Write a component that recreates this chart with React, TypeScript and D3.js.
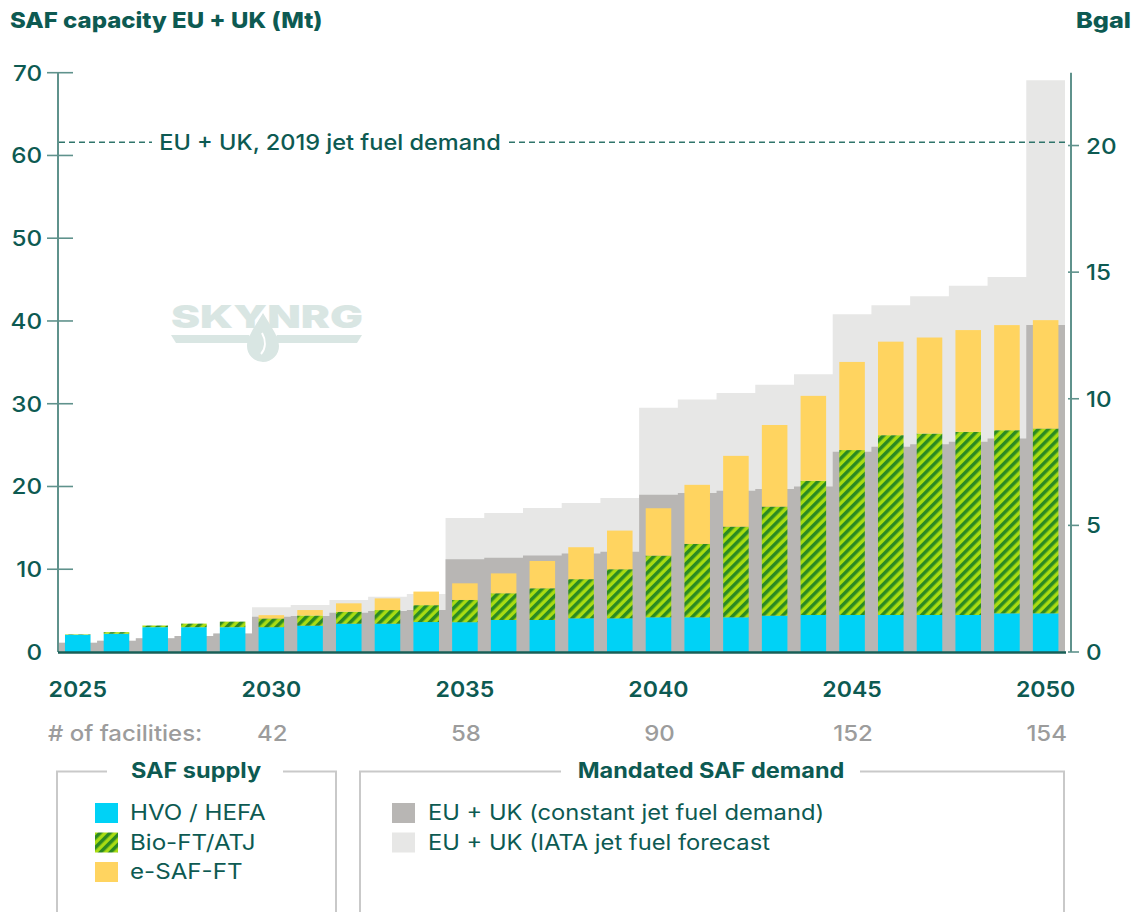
import React from "react";
import * as d3 from "d3";

// ---------- data ----------
const years = [
  "2025", "2026", "2027", "2028", "2029",
  "2030", "2031", "2032", "2033", "2034",
  "2035", "2036", "2037", "2038", "2039",
  "2040", "2041", "2042", "2043", "2044",
  "2045", "2046", "2047", "2048", "2049", "2050",
];

// SAF supply (Mt), stacked segments
const hvoHefa = [
  2.07, 2.2, 3.0, 3.0, 3.0,
  3.0, 3.18, 3.42, 3.42, 3.62,
  3.6, 3.87, 3.87, 4.07, 4.07,
  4.19, 4.19, 4.19, 4.39, 4.47,
  4.47, 4.47, 4.47, 4.47, 4.67, 4.67,
];
const bioFtAtj = [
  0.06, 0.2, 0.2, 0.43, 0.67,
  1.05, 1.23, 1.45, 1.65, 2.04,
  2.69, 3.23, 3.83, 4.73, 5.93,
  7.46, 8.87, 10.96, 13.18, 16.21,
  19.93, 21.73, 21.93, 22.13, 22.13, 22.33,
];
const eSafFt = [
  0, 0, 0, 0, 0,
  0.4, 0.66, 1.01, 1.41, 1.64,
  2.01, 2.4, 3.3, 3.86, 4.67,
  5.72, 7.14, 8.55, 9.86, 10.27,
  10.65, 11.3, 11.6, 12.3, 12.7, 13.1,
];

// Mandated SAF demand (Mt)
const demandConstant = [
  1.12, 1.37, 1.65, 1.93, 2.25,
  4.27, 4.35, 4.75, 4.95, 5.07,
  11.2, 11.4, 11.65, 11.9, 12.1,
  19.0, 19.2, 19.47, 19.7, 20.0,
  24.2, 24.8, 25.1, 25.4, 25.8, 39.5,
];
const demandIata = [
  1.12, 1.37, 1.65, 1.93, 2.25,
  5.4, 5.68, 6.28, 6.69, 7.0,
  16.2, 16.8, 17.4, 18.0, 18.6,
  29.5, 30.5, 31.3, 32.3, 33.55,
  40.8, 41.9, 43.0, 44.25, 45.3, 69.1,
];

const leftTicks = [0, 10, 20, 30, 40, 50, 60, 70];
const rightTicks = [0, 5, 10, 15, 20];
const yearLabels = ["2025", "2030", "2035", "2040", "2045", "2050"];
const facilityYears = ["2030", "2035", "2040", "2045", "2050"];
const facilityCounts = ["42", "58", "90", "152", "154"];
const jetFuel2019 = 61.6; // Mt
const mtPerBgal = 3.06;

const supplyKeys = ["hvo", "bio", "esaf"];
const supplyLabels = ["HVO / HEFA", "Bio-FT/ATJ", "e-SAF-FT"];
const demandLabels = ["EU + UK (constant jet fuel demand)", "EU + UK (IATA jet fuel forecast"];

// ---------- style ----------
const TEAL = "#0d5a52";
const AXIS = "#5f928c";
const CYAN = "#00d2f6";
const YELLOW = "#ffd460";
const GREEN_L = "#a9dc12";
const GREEN_D = "#2b8a22";
const GRAY_D = "#b8b6b4";
const GRAY_L = "#e7e7e6";
const FONT = "Inter, 'Noto Sans', sans-serif";

function T(props: {
  x: number;
  y: number;
  sx?: number;
  anchor?: "start" | "middle" | "end";
  size: number;
  weight?: number;
  fill?: string;
  children: React.ReactNode;
}) {
  const { x, y, sx = 1, anchor = "start", size, weight = 400, fill = TEAL, children } = props;
  return (
    <text
      transform={`translate(${x},${y}) scale(${sx},1)`}
      textAnchor={anchor}
      fontSize={size}
      fontWeight={weight}
      fill={fill}
    >
      {children}
    </text>
  );
}

export default function App() {
  const W = 1139;
  const H = 912;
  const x = d3.scaleBand<string>().domain(years).range([58.4, 1065]).padding(0);
  const y = d3.scaleLinear().domain([0, 70]).range([652, 72.7]);
  const yR = d3.scaleLinear().domain([0, 70 / mtPerBgal]).range([652, 72.7]);
  const bw = x.bandwidth();
  const barW = bw * 0.66;

  const rows = years.map((yr, i) => ({ year: yr, hvo: hvoHefa[i], bio: bioFtAtj[i], esaf: eSafFt[i] }));
  const stacked = d3.stack<any>().keys(supplyKeys)(rows);
  const fills = [CYAN, "url(#hatch)", YELLOW];

  const stepPts = (vals: number[]) =>
    years.flatMap((yr, i) => [
      { x: x(yr)!, v: vals[i] },
      { x: x(yr)! + bw, v: vals[i] },
    ]);
  const area = d3
    .area<{ x: number; v: number }>()
    .x((d) => d.x)
    .y0(y(0))
    .y1((d) => y(d.v));

  const yDash = y(jetFuel2019);

  return (
    <svg
      width={W}
      height={H}
      style={{ position: "absolute", left: 0, top: 0, background: "#fff" }}
      fontFamily={FONT}
    >
      <defs>
        <pattern id="hatch" width="7" height="7" patternUnits="userSpaceOnUse" patternTransform="rotate(45)">
          <rect width="7" height="7" fill={GREEN_L} />
          <rect width="3.5" height="7" fill={GREEN_D} />
        </pattern>
      </defs>
      <rect width={W} height={H} fill="#fff" />

      {/* watermark */}
      <g fill="#d9e6e3">
        <text x={171} y={328} fontSize={31} fontWeight={900} textLength={192} lengthAdjust="spacingAndGlyphs">
          SKYNRG
        </text>
        <polygon points="171,335 249,335 254,343 176,343" />
        <polygon points="277,335 362,335 357,343 272,343" />
        <path d="M263,313 C258,322 247,336 247,346 A16,16 0 0 0 279,346 C279,336 268,322 263,313 Z" />
        <path d="M262,333 C266,340 266,348 261,354" fill="none" stroke="#fff" strokeWidth={2} />
      </g>

      {/* demand areas */}
      <path d={area(stepPts(demandIata))!} fill={GRAY_L} />
      <path d={area(stepPts(demandConstant))!} fill={GRAY_D} />

      {/* supply bars */}
      {stacked.map((s, si) => (
        <g key={s.key} fill={fills[si]}>
          {s.map((d, i) =>
            d[1] - d[0] > 0 ? (
              <rect
                key={years[i]}
                x={x(years[i])! + (bw - barW) / 2}
                y={y(d[1])}
                width={barW}
                height={y(d[0]) - y(d[1])}
              />
            ) : null
          )}
        </g>
      ))}

      {/* dashed 2019 demand line */}
      <line x1={59} x2={1069} y1={yDash} y2={yDash} stroke="#2f746b" strokeWidth={1.4} strokeDasharray="6 4" />
      <rect x={152} y={yDash - 13} width={356} height={26} fill="#fff" />
      <T x={330} y={yDash + 7.5} anchor="middle" size={22} weight={500} sx={1.07}>
        EU + UK, 2019 jet fuel demand
      </T>

      {/* left axis */}
      <line x1={58} x2={58} y1={y(70)} y2={y(0)} stroke={AXIS} strokeWidth={2} />
      {leftTicks.map((t) => (
        <g key={t}>
          {t > 0 && <line x1={47} x2={73} y1={y(t)} y2={y(t)} stroke={AXIS} strokeWidth={1.6} />}
          <T x={42} y={y(t) + 8} anchor="end" size={22} weight={500} sx={1.1}>
            {t}
          </T>
        </g>
      ))}

      {/* right axis */}
      <line x1={1071} x2={1071} y1={y(70)} y2={y(0)} stroke={AXIS} strokeWidth={2} />
      {rightTicks.map((t) => (
        <g key={t}>
          <line x1={1068} x2={1079} y1={yR(t)} y2={yR(t)} stroke={AXIS} strokeWidth={1.6} />
          <T x={1086} y={yR(t) + 8} size={22} weight={500} sx={1.1}>
            {t}
          </T>
        </g>
      ))}

      {/* baseline */}
      <line x1={58} x2={1066} y1={y(0) + 0.5} y2={y(0) + 0.5} stroke="#185f57" strokeWidth={2.6} />

      {/* titles */}
      <T x={10} y={28} size={22} weight={800} sx={1.09}>
        SAF capacity EU + UK (Mt)
      </T>
      <T x={1131} y={28} anchor="end" size={22} weight={800} sx={1.15}>
        Bgal
      </T>

      {/* x labels */}
      {yearLabels.map((yr) => (
        <T key={yr} x={x(yr)! + bw / 2} y={697} anchor="middle" size={22} weight={600} sx={1.05}>
          {yr}
        </T>
      ))}
      <T x={48} y={741} size={22} weight={500} sx={1.09} fill="#9c9c9c">
        # of facilities:
      </T>
      {facilityYears.map((yr, i) => (
        <T key={yr} x={x(yr)! + bw / 2 + 1} y={741} anchor="middle" size={22} weight={500} sx={1.09} fill="#9c9c9c">
          {facilityCounts[i]}
        </T>
      ))}

      {/* legend boxes */}
      <g stroke="#c9c9c9" strokeWidth={2} fill="none">
        <polyline points={`57,${H} 57,771.5 107,771.5`} />
        <polyline points={`283,771.5 336,771.5 336,${H}`} />
        <polyline points={`360,${H} 360,771.5 561,771.5`} />
        <polyline points={`860,771.5 1064,771.5 1064,${H}`} />
      </g>
      <T x={196} y={778} anchor="middle" size={21} weight={700} sx={1.12}>
        SAF supply
      </T>
      <T x={711} y={778} anchor="middle" size={21} weight={700} sx={1.12}>
        Mandated SAF demand
      </T>
      {supplyLabels.map((lab, i) => (
        <g key={lab}>
          <rect x={95} y={803 + i * 29.5} width={23} height={20} fill={fills[i]} />
          <T x={130} y={820 + i * 29.5} size={21} sx={1.15}>
            {lab}
          </T>
        </g>
      ))}
      {demandLabels.map((lab, i) => (
        <g key={lab}>
          <rect x={392} y={803 + i * 29.5} width={23} height={20} fill={i === 0 ? GRAY_D : GRAY_L} />
          <T x={428} y={820 + i * 29.5} size={21} sx={1.13}>
            {lab}
          </T>
        </g>
      ))}
    </svg>
  );
}
